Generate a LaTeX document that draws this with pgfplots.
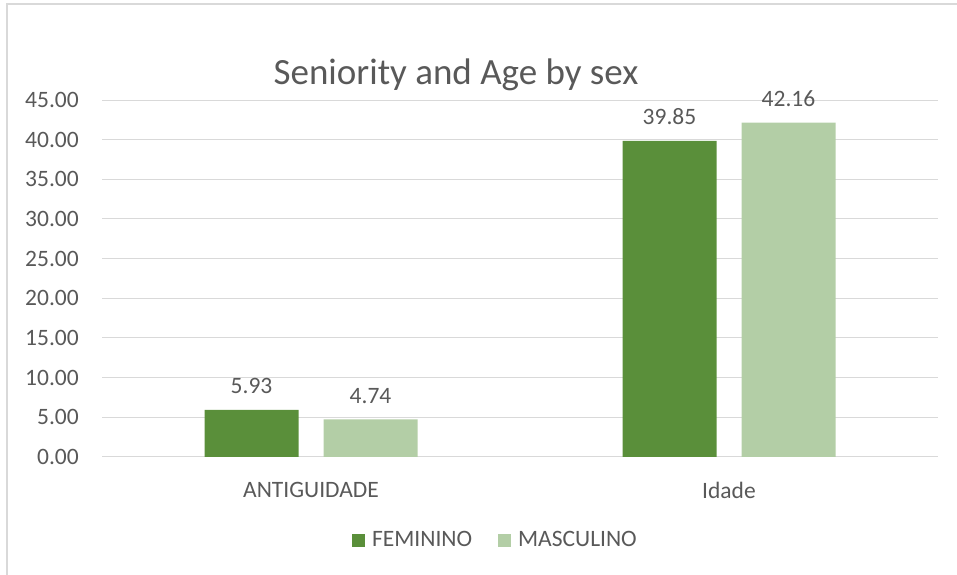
\documentclass[border=0pt]{standalone}
\usepackage{pgfplots}
\pgfplotsset{compat=1.18}
\usepackage{fontspec}
\setmainfont{Carlito}
\definecolor{txt}{HTML}{595959}
\definecolor{gridc}{HTML}{D9D9D9}
\definecolor{fem}{HTML}{5A8F3A}
\definecolor{masc}{HTML}{B3CEA6}
\begin{document}
\begin{tikzpicture}
\useasboundingbox (0,0) rectangle (957bp,575bp);
\draw[gridc, line width=1.5bp] (7bp,0) -- (7bp,571bp) -- (957bp,571bp);
\node[anchor=base, font=\fontsize{37bp}{42bp}\selectfont, text=txt] at (456bp,490bp) {Seniority and Age by sex};
\begin{axis}[
  at={(102bp,118bp)}, anchor=south west,
  scale only axis, width=836bp, height=357bp,
  xmin=-0.5, xmax=1.5, ymin=0, ymax=45,
  xtick={0,1}, xticklabels={ANTIGUIDADE,Idade},
  ytick={0,5,...,45},
  major tick length=0pt,
  axis line style={draw=none},
  xmajorgrids=false,
  ymajorgrids=true, grid style={draw=gridc, line width=1bp},
  /pgf/number format/assume math mode=true,
  yticklabel={\pgfmathprintnumber[fixed,fixed zerofill,precision=2]{\tick}},
  yticklabel style={anchor=east, inner sep=0pt, xshift=-23bp, font=\fontsize{23.5bp}{27bp}\selectfont, text=txt},
  xticklabel style={anchor=center, yshift=-33bp, font=\fontsize{23.5bp}{27bp}\selectfont, text=txt},
  ybar, bar width=94bp,
  nodes near coords={\pgfmathprintnumber[fixed,fixed zerofill,precision=2,assume math mode=true]{\pgfplotspointmeta}},
  every node near coord/.append style={anchor=south, inner sep=0pt, yshift=16bp, font=\fontsize{23.5bp}{27bp}\selectfont, text=txt},
  legend columns=2,
  legend style={at={(0.4706,-0.2325)}, anchor=center, draw=none, fill=none,
    font=\fontsize{23.5bp}{27bp}\selectfont, text=txt,
    /tikz/every odd column/.append style={column sep=5bp},
    /tikz/every even column/.append style={column sep=24bp}},
  legend image code/.code={\fill[#1] (0bp,-6.5bp) rectangle (13bp,6.5bp);},
]
\addplot[fill=fem, draw=none, bar shift=-59.5bp] coordinates {(0,5.93) (1,39.85)};
\addplot[fill=masc, draw=none, bar shift=59.5bp] coordinates {(0,4.74) (1,42.16)};
\legend{FEMININO,MASCULINO}
\end{axis}
\end{tikzpicture}
\end{document}
